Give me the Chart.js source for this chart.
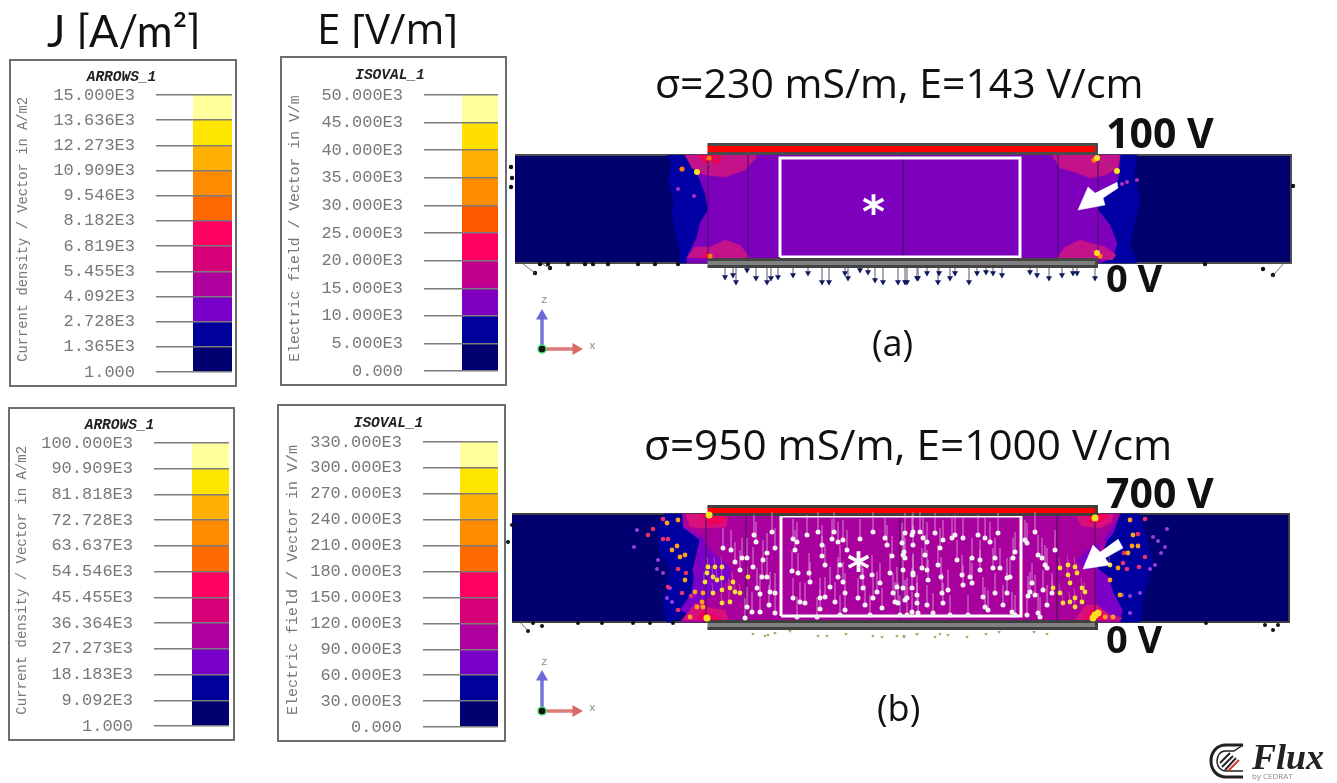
<!DOCTYPE html>
<html lang="en">
<head>
<meta charset="UTF-8">
<title>Flux field maps</title>
<script src="https://cdn.jsdelivr.net/npm/chart.js"></script>
<style>
  html, body { margin: 0; background: #fff; }
  #page { position: relative; width: 1337px; height: 783px; overflow: hidden; filter: blur(0.5px); }
  .frame { position: absolute; box-sizing: border-box; border: 2px solid #6e6e6e; background: #fff; }
  .frame canvas, .panel { display: block; }
  .panel { position: absolute; left: 500px; }
  .txt { position: absolute; white-space: nowrap; font-family: "Open Sans", sans-serif; line-height: 1; color: #111; }
  .clip { position: absolute; overflow: hidden; }
  .volt { font-weight: 700; font-size: 41px; color: #111; }
  .zero { font-weight: 700; font-size: 38px; color: #111; }
  .par { font-size: 36px; }
  .star { font-family: "DejaVu Sans", sans-serif; font-weight: 700; color: #fff; font-size: 44px; }
  .ax { font-family: "Liberation Mono", monospace; color: #888; font-size: 11px; }
</style>
</head>
<body>
<div id="page">
  <div class="clip" style="left:40px;top:8px;width:170px;height:41px">
    <span class="txt" style="left:7px;top:1px;font-size:43.5px;font-family:Lato,sans-serif">J [A/m²]</span>
  </div>
  <div class="clip" style="left:310px;top:4px;width:160px;height:44px">
    <span class="txt" style="left:7px;top:3px;font-size:42px">E [V/m]</span>
  </div>

  <canvas id="panelA" class="panel" width="800" height="270" style="top:110px"></canvas>
  <canvas id="panelB" class="panel" width="800" height="270" style="top:470px"></canvas>

  <span class="txt" style="left:655px;top:62px;font-size:41px">σ=230 mS/m, E=143 V/cm</span>
  <span class="txt volt" style="left:1106px;top:112px">100 V</span>
  <span class="txt zero" style="left:1106px;top:258px">0 V</span>
  <span class="txt par" style="left:872px;top:325px">(a)</span>
  <span class="txt star" style="left:862px;top:190px">*</span>
  <span class="txt ax" style="left:541px;top:295px">z</span>
  <span class="txt ax" style="left:589px;top:341px">x</span>

  <span class="txt" style="left:644px;top:423px;font-size:42.3px">σ=950 mS/m, E=1000 V/cm</span>
  <span class="txt volt" style="left:1106px;top:472px">700 V</span>
  <span class="txt zero" style="left:1106px;top:619px">0 V</span>
  <span class="txt par" style="left:877px;top:690px">(b)</span>
  <span class="txt star" style="left:847px;top:547px">*</span>
  <span class="txt ax" style="left:541px;top:657px">z</span>
  <span class="txt ax" style="left:589px;top:703px">x</span>

  <svg style="position:absolute;left:1208px;top:741px" width="40" height="40" viewBox="0 0 40 40">
    <path d="M35 4 H18 C8 4 3 12 3 20 C3 29 9 36 18 36 H35" fill="none" stroke="#222" stroke-width="3"/>
    <path d="M35 4 L26 10 H17 C12 10 9 15 9 20 C9 26 13 30 18 30 H35" fill="none" stroke="#222" stroke-width="1.5"/>
    <path d="M12 22 L22 12 M14 26 L25 15 M17 29 L28 17" stroke="#222" stroke-width="2"/>
    <path d="M20 30 L31 19" stroke="#d8321e" stroke-width="2"/>
  </svg>
  <span class="txt" style="left:1252px;top:739px;font:italic 700 36px 'Liberation Serif',serif;line-height:1;color:#222">Flux</span>
  <span class="txt" style="left:1252px;top:772px;font-size:8px;color:#888">by CEDRAT</span>
</div>

<script>
  // legend levels, bottom to top
  const jLevelsA = [1, 1365, 2728, 4092, 5455, 6819, 8182, 9546, 10909, 12273, 13636, 15000];
  const jLabelsA = ['1.000', '1.365E3', '2.728E3', '4.092E3', '5.455E3', '6.819E3', '8.182E3', '9.546E3', '10.909E3', '12.273E3', '13.636E3', '15.000E3'];
  const eLevelsA = [0, 5000, 10000, 15000, 20000, 25000, 30000, 35000, 40000, 45000, 50000];
  const eLabelsA = ['0.000', '5.000E3', '10.000E3', '15.000E3', '20.000E3', '25.000E3', '30.000E3', '35.000E3', '40.000E3', '45.000E3', '50.000E3'];
  const jLevelsB = [1, 9092, 18183, 27273, 36364, 45455, 54546, 63637, 72728, 81818, 90909, 100000];
  const jLabelsB = ['1.000', '9.092E3', '18.183E3', '27.273E3', '36.364E3', '45.455E3', '54.546E3', '63.637E3', '72.728E3', '81.818E3', '90.909E3', '100.000E3'];
  const eLevelsB = [0, 30000, 60000, 90000, 120000, 150000, 180000, 210000, 240000, 270000, 300000, 330000];
  const eLabelsB = ['0.000', '30.000E3', '60.000E3', '90.000E3', '120.000E3', '150.000E3', '180.000E3', '210.000E3', '240.000E3', '270.000E3', '300.000E3', '330.000E3'];

  const colors11 = ['#000070', '#00009a', '#7800c8', '#ae009c', '#d80078', '#ff0060', '#ff6a00', '#ff8c00', '#ffb000', '#ffe600', '#ffff9c'];
  const colors10 = ['#000070', '#00009a', '#8000c0', '#c0008c', '#ff0060', '#ff5800', '#ff8c00', '#ffb000', '#ffdf00', '#ffff9c'];

  // field map (a), x along the cell, z up
  const blockA = [[15, 117], [791, 117], [791, 225], [15, 225]];
  const blueLeftA = [[167, 225], [172, 215], [168, 200], [174, 180], [172, 165], [176, 145], [180, 130], [180, 117], [187, 117], [187, 123], [197, 143], [200, 157], [208, 170], [205, 187], [197, 207], [185, 225]];
  const blueRightA = [[620, 225], [637, 225], [634, 205], [640, 180], [634, 155], [630, 135], [637, 117], [600, 117], [613, 122], [617, 137], [610, 155], [598, 170], [600, 180], [618, 200]];
  const purpleA = [[185, 225], [620, 225], [618, 200], [600, 180], [598, 170], [610, 155], [617, 137], [613, 122], [600, 117], [187, 117], [187, 123], [197, 143], [200, 157], [208, 170], [205, 187], [197, 207]];
  const hotA = [
    [[185, 225], [192, 212], [205, 205], [225, 203], [245, 210], [256, 222], [256, 225]],
    [[187, 122], [195, 133], [210, 133], [225, 140], [240, 135], [250, 122]],
    [[552, 225], [560, 212], [575, 208], [590, 202], [605, 205], [618, 212], [620, 225]],
    [[557, 122], [565, 133], [580, 140], [590, 137], [605, 133], [616, 125], [612, 120]]
  ];
  const redA = [[[197, 225], [205, 217], [220, 217], [222, 225]], [[200, 122], [207, 128], [213, 122]]];
  const yellowA = [[597, 222], [617, 209], [597, 127], [197, 208]];
  const orangeA = [[209, 222], [210, 124], [182, 211], [594, 220], [600, 124]];
  const pinkA = [[178, 191], [194, 184], [622, 196], [637, 200], [627, 198]];
  const gridLinesA = [208, 248, 403, 558, 598];
  const windowA = [[280, 123], [520, 123], [520, 222], [280, 222]];
  const redBarA = [[207.5, 226.5], [596.5, 226.5], [596.5, 235.5], [207.5, 235.5]];
  const greyBarA = [[207.5, 113.5], [596.5, 113.5], [596.5, 120.5], [207.5, 120.5]];
  const whiteArrowA = [[617, 198], [618, 192], [603, 182], [605, 175], [578, 170], [588, 193], [595, 187]];
  const downArrowsA = [[225, 103], [233, 105], [236, 98], [247, 110], [256, 102], [267, 98], [271, 102], [278, 103], [293, 105], [308, 107], [322, 98], [329, 98], [345, 107], [348, 102], [360, 110], [368, 108], [375, 100], [383, 98], [398, 98], [405, 98], [417, 102], [407, 98], [418, 102], [427, 107], [439, 107], [438, 98], [450, 102], [455, 107], [469, 98], [477, 107], [486, 108], [493, 107], [502, 105], [530, 108], [537, 105], [549, 102], [562, 105], [573, 107], [577, 107], [595, 102]];
  const edgeMarksA = [[40, 116], [48, 116], [68, 116], [85, 116], [93, 116], [108, 116], [138, 116], [155, 116], [178, 116], [11, 213], [12, 202], [11, 193], [793, 194], [705, 116], [773, 105], [763, 111], [35, 107], [50, 112]];

  // field map (b)
  const blockB = [[12, 118], [789, 118], [789, 226], [12, 226]];
  const mainB = [[182, 226], [620, 226], [613, 207], [607, 200], [597, 172], [608, 163], [613, 147], [622, 130], [620, 118], [180, 118], [187, 127], [197, 147], [193, 170], [200, 200], [183, 213]];
  const blueLeftB = [[165, 226], [182, 226], [183, 213], [200, 200], [193, 170], [197, 147], [187, 127], [172, 118], [167, 118], [163, 137], [170, 170], [160, 187], [157, 213]];
  const blueRightB = [[620, 226], [640, 226], [645, 207], [653, 177], [643, 143], [640, 118], [620, 118], [622, 130], [613, 147], [608, 163], [597, 172], [607, 200], [613, 207]];
  const violetB = [
    [[183, 213], [203, 202], [210, 190], [230, 173], [230, 163], [220, 150], [207, 142], [200, 138], [187, 127], [180, 130], [192, 147], [195, 170], [200, 200]],
    [[618, 223], [613, 207], [607, 200], [587, 190], [577, 180], [583, 170], [597, 172], [608, 163], [613, 147], [622, 130], [620, 122], [607, 120], [597, 137], [595, 157], [600, 195]]
  ];
  const hotB = [
    [[186, 226], [190, 213], [205, 212], [226, 213], [228, 226]],
    [[183, 120], [195, 137], [210, 132], [225, 130], [228, 120]],
    [[575, 226], [582, 214], [600, 212], [612, 218], [613, 226]],
    [[575, 120], [585, 135], [597, 135], [610, 125], [622, 122], [620, 120]]
  ];
  const redB = [[[200, 226], [208, 216], [222, 216], [228, 226]], [[195, 120], [203, 129], [213, 125], [222, 120]], [[585, 226], [590, 217], [602, 218], [608, 226]], [[585, 120], [590, 130], [600, 131], [606, 120]]];
  const gridLinesB = [206, 246, 400, 557, 595];
  const windowB = [[281, 124], [521, 124], [521, 224], [281, 224]];
  const redBarB = [[207.5, 225.5], [596.5, 225.5], [596.5, 233.5], [207.5, 233.5]];
  const greyBarB = [[207.5, 111.5], [596.5, 111.5], [596.5, 118.5], [207.5, 118.5]];
  const whiteArrowB = [[618, 201], [623, 192], [605, 182], [610, 175], [583, 171], [593, 195], [600, 188]];
  const whiteDotsB = [[223, 192], [231, 190], [254, 205], [256, 198], [272, 208], [275, 192], [235, 178], [242, 182], [247, 182], [240, 170], [253, 173], [263, 180], [267, 187], [262, 163], [267, 163], [257, 152], [260, 146], [270, 148], [275, 147], [247, 133], [252, 128], [260, 128], [269, 135], [275, 127], [245, 122],
    [293, 201], [297, 198], [295, 190], [307, 205], [318, 208], [322, 195], [334, 208], [332, 201], [338, 198], [343, 200], [347, 190], [360, 201], [373, 208], [385, 202], [387, 195], [392, 184], [403, 185], [405, 207], [413, 208], [402, 197], [413, 195],
    [292, 169], [298, 167], [309, 167], [310, 158], [322, 184], [325, 175], [340, 175], [338, 163], [343, 158], [330, 153], [345, 147], [363, 152], [362, 163], [372, 165], [380, 157], [377, 148], [373, 142], [390, 167], [397, 153], [393, 147], [407, 142], [413, 167],
    [293, 142], [300, 138], [305, 137], [320, 142], [325, 143], [335, 138], [345, 130], [320, 131], [358, 142], [365, 135], [382, 132], [395, 138], [398, 137], [412, 128], [297, 123], [317, 123], [340, 125], [370, 125], [400, 125],
    [404, 188], [405, 182], [403, 170], [403, 152], [412, 205], [420, 208], [423, 202], [427, 198], [425, 185], [422, 172], [427, 170], [428, 160], [413, 165], [412, 152], [417, 145], [405, 140], [417, 137], [418, 127], [427, 135], [435, 207], [443, 200], [452, 202], [440, 192], [457, 180], [438, 175], [441, 163], [442, 147], [443, 137], [448, 150], [462, 165], [463, 155], [470, 163], [472, 182], [472, 157], [463, 202], [455, 205], [478, 205], [485, 202], [490, 198], [498, 207], [480, 180], [495, 182], [493, 172], [500, 172], [513, 182], [515, 188], [480, 170], [483, 143], [485, 133], [488, 130], [495, 147], [507, 162], [510, 163], [507, 147], [503, 135], [512, 128], [468, 125], [450, 125], [433, 127], [407, 125], [515, 125],
    [525, 200], [527, 197], [535, 208], [538, 185], [542, 182], [545, 175], [547, 172], [532, 157], [530, 148], [535, 145], [528, 144], [543, 150], [547, 135], [538, 127], [540, 123], [527, 125], [552, 147], [555, 190]];
  const yellowDotsB = [[208, 173], [215, 173], [222, 173], [207, 167], [213, 163], [205, 158], [217, 160], [222, 162], [233, 158], [230, 152], [235, 148], [222, 150], [240, 147], [230, 138], [222, 137], [213, 147], [248, 163], [560, 172], [568, 175], [575, 173], [577, 167], [568, 165], [570, 157], [582, 152], [585, 148], [553, 152], [560, 147], [570, 138], [575, 133], [563, 137], [582, 138], [575, 142], [610, 175]];
  const orangeDotsB = [[167, 217], [178, 220], [172, 190], [177, 194], [185, 185], [180, 183], [185, 160], [203, 147], [195, 148], [202, 138], [197, 133], [203, 133], [190, 123], [630, 220], [633, 205], [632, 194], [638, 194], [628, 187], [618, 172], [610, 160], [620, 145], [605, 123], [613, 123]];
  const redDotsB = [[163, 221], [153, 211], [148, 205], [163, 201], [168, 201], [178, 171], [186, 167], [191, 144], [182, 147], [168, 153], [178, 130], [645, 221], [638, 206], [624, 187], [645, 183], [623, 177], [627, 171], [639, 173]];
  const purpleDotsB = [[137, 210], [134, 193], [157, 171], [163, 167], [158, 180], [167, 142], [170, 152], [172, 138], [667, 211], [653, 203], [658, 199], [665, 193], [661, 187], [655, 175], [650, 171], [640, 147], [630, 144], [630, 127], [622, 145]];
  const hotCoreB = [[207, 122], [209, 225], [595, 222], [595, 125], [593, 122], [598, 127]];
  const belowMarksB = [[253, 106], [265, 104], [268, 105], [275, 107], [290, 109], [318, 104], [327, 104], [346, 106], [373, 104], [382, 103], [397, 104], [404, 104], [417, 106], [404, 103], [417, 106], [435, 103], [440, 106], [448, 105], [467, 103], [486, 106], [499, 108], [534, 108], [547, 106]];
  const edgeMarksB = [[28, 109], [42, 114], [33, 117], [78, 117], [102, 117], [133, 117], [150, 117], [173, 117], [8, 198], [12, 215], [706, 117], [773, 110], [765, 115], [778, 115]];

  // xz triad: origin, z tip, x tip
  const triadA = [[42, 31], [42, 68], [80, 31]];
  const triadB = [[42, 29], [42, 67], [80, 29]];

  const mono = 'Liberation Mono';
  // leading space in the axis text: the printed title sits a bit above the bar centre
  const legendBoxes = [
    { parent: [9, 59, 228, 328], bar: [193, 232, 95, 372], tickLen: 37, labelGap: 21, titleX: 23, axisSize: 13.8, title: 'ARROWS_1', axis: ' Current density / Vector in A/m2', levels: jLevelsA, labels: jLabelsA, colors: colors11 },
    { parent: [280, 56, 227, 330], bar: [462, 498, 95, 371], tickLen: 38, labelGap: 21, titleX: 295, axisSize: 14.8, title: 'ISOVAL_1', axis: ' Electric field / Vector in V/m', levels: eLevelsA, labels: eLabelsA, colors: colors10 },
    { parent: [8, 407, 227, 334], bar: [192, 229, 443, 726], tickLen: 38, labelGap: 21, titleX: 22, axisSize: 14, title: 'ARROWS_1', axis: ' Current density / Vector in A/m2', levels: jLevelsB, labels: jLabelsB, colors: colors11 },
    { parent: [277, 404, 229, 338], bar: [460, 498, 442, 727], tickLen: 37, labelGap: 21, titleX: 292, axisSize: 15, title: 'ISOVAL_1', axis: ' Electric field / Vector in V/m', levels: eLevelsB, labels: eLabelsB, colors: colors11 }
  ];

  function makeLegend(box) {
    const [fx, fy, fw, fh] = box.parent;
    const [barL, barR, barT, barB] = box.bar;
    const div = document.createElement('div');
    div.className = 'frame';
    div.style.cssText = `left:${fx}px;top:${fy}px;width:${fw}px;height:${fh}px`;
    const canvas = document.createElement('canvas');
    canvas.width = fw - 4;
    canvas.height = fh - 4;
    div.appendChild(canvas);
    document.getElementById('page').insertBefore(div, document.getElementById('panelA'));

    const innerL = fx + 2, innerT = fy + 2;
    const titleCentre = (barT - innerT) * 0.47;
    const titleSize = 14.5;
    const titleLine = titleSize * 1.2;

    new Chart(canvas, {
      type: 'bar',
      data: {
        labels: [''],
        datasets: box.colors.map((c, i) => ({
          data: [[box.levels[i], box.levels[i + 1]]],
          backgroundColor: c,
          barPercentage: 1,
          categoryPercentage: 1
        }))
      },
      options: {
        responsive: false,
        animation: false,
        events: [],
        layout: { padding: { right: fx + fw - 2 - barR, bottom: fy + fh - 2 - barB } },
        plugins: {
          legend: { display: false },
          tooltip: { enabled: false },
          title: {
            display: true,
            text: box.title,
            color: '#222',
            font: { family: mono, size: titleSize, weight: 'bold', style: 'italic' },
            padding: { top: titleCentre - titleLine / 2, bottom: barT - innerT - titleCentre - titleLine / 2 }
          }
        },
        scales: {
          x: { stacked: true, display: false },
          y: {
            min: box.levels[0],
            max: box.levels[box.levels.length - 1],
            afterBuildTicks: s => { s.ticks = box.levels.map(v => ({ value: v })); },
            afterFit: s => { s.width = barL - innerL; s.paddingTop = 0; s.paddingBottom = 0; },
            border: { display: false },
            grid: { color: '#7c7c7c', lineWidth: 1.4, tickLength: box.tickLen, z: 1 },
            ticks: {
              autoSkip: false,
              padding: box.labelGap,
              color: '#777',
              font: { family: mono, size: 17 },
              callback: (v, i) => box.labels[i]
            },
            title: {
              display: true,
              text: box.axis,
              color: '#777',
              font: { family: mono, size: box.axisSize },
              padding: { top: box.titleX - innerL - 8.3, bottom: 0 }
            }
          }
        }
      }
    });
  }
  legendBoxes.forEach(makeLegend);

  const toXY = pts => pts.map(p => ({ x: p[0], y: p[1] }));
  const poly = (pts, fill, border, width) => ({
    data: toXY(pts), fill: 'shape', backgroundColor: fill,
    borderColor: border || fill, borderWidth: width === undefined ? 0.5 : width,
    pointRadius: 0, tension: 0
  });
  const closed = (pts, color, width) => ({
    data: toXY(pts.concat([pts[0]])), fill: false, borderColor: color, borderWidth: width,
    pointRadius: 0, tension: 0
  });
  const dots = (pts, color, radius, style, rotation) => ({
    data: toXY(pts), showLine: false, pointRadius: radius, pointBackgroundColor: color,
    pointBorderColor: color, pointBorderWidth: 0, pointStyle: style || 'circle', pointRotation: rotation || 0
  });
  // separate strokes, with a gap between them
  const strokes = (pairs, color, width) => ({
    data: pairs.flatMap(s => [{ x: s[0], y: s[1] }, { x: s[2], y: s[3] }, { x: s[0], y: NaN }]),
    fill: false, borderColor: color, borderWidth: width, pointRadius: 0, spanGaps: false, tension: 0
  });

  function triad(t) {
    const [o, z, x] = t;
    return [
      strokes([[o[0], o[1], z[0], z[1] - 6]], '#7474d8', 3.5),
      dots([[z[0], z[1] - 4]], '#6a6ad8', 7, 'triangle'),
      strokes([[o[0], o[1], x[0] - 6, x[1]]], '#de7a78', 3.5),
      dots([[x[0] - 4, x[1]]], '#d86a68', 7, 'triangle', 90),
      { data: toXY([o]), showLine: false, pointRadius: 4, pointBackgroundColor: '#111', pointBorderColor: '#3fe06a', pointBorderWidth: 1.5 }
    ];
  }

  function makePanel(id, layers) {
    layers.forEach((d, i) => { d.order = -i; });
    new Chart(document.getElementById(id), {
      type: 'line',
      data: { datasets: layers },
      options: {
        responsive: false,
        animation: false,
        events: [],
        layout: { padding: 0, autoPadding: false },
        plugins: { legend: { display: false }, tooltip: { enabled: false } },
        scales: {
          x: { type: 'linear', min: 0, max: 800, display: false },
          y: { type: 'linear', min: 0, max: 270, display: false }
        }
      }
    });
  }

  const verticals = (xs, lo, hi) => xs.map(x => [x, lo, x, hi]);

  makePanel('panelA', [
    poly(blockA, '#00006c', '#4d4d4d', 2),
    poly(blueLeftA, '#0000a4'),
    poly(blueRightA, '#0000a4'),
    poly(purpleA, '#7c00bc'),
    ...hotA.map(p => poly(p, '#c4128a')),
    ...redA.map(p => poly(p, '#ee0058')),
    strokes(verticals(gridLinesA, 117, 225), '#3a1060', 1),
    closed(windowA, '#ffffff', 3),
    poly(redBarA, '#ff0000', '#4a4a4a', 3),
    poly(greyBarA, '#808080', '#444444', 3),
    strokes(downArrowsA.map(p => [p[0], 112, p[0], p[1]]), '#8a8a9a', 0.7),
    dots(downArrowsA, '#101a60', 3.5, 'triangle', 180),
    dots(edgeMarksA, '#111', 2.2),
    strokes([[23, 116, 35, 107], [42, 116, 50, 112], [783, 116, 772, 103], [197, 208, 222, 225], [617, 209, 597, 222]], '#7a4a60', 0.8),
    dots(pinkA, '#b030c0', 2),
    dots(orangeA, '#ff7a10', 2.6),
    dots(yellowA, '#ffe020', 3),
    poly(whiteArrowA, '#ffffff'),
    ...triad(triadA)
  ]);

  makePanel('panelB', [
    poly(blockB, '#000070', '#3d3d3d', 2),
    poly(blueLeftB, '#0000a0'),
    poly(blueRightB, '#0000a0'),
    poly(mainB, '#a8009c'),
    ...violetB.map(p => poly(p, '#7c00c8')),
    ...hotB.map(p => poly(p, '#d8107e')),
    ...redB.map(p => poly(p, '#f00058')),
    strokes(verticals(gridLinesB, 118, 226), '#3a1050', 1),
    closed(windowB, '#ffffff', 3),
    poly(redBarB, '#ff0000', '#3f3f3f', 3),
    poly(greyBarB, '#808080', '#3f3f3f', 3),
    strokes(whiteDotsB.map(p => [p[0], p[1], p[0], p[1] + 20]), 'rgba(235,205,235,0.65)', 1),
    strokes(yellowDotsB.map(p => [p[0], p[1], p[0] - 1, p[1] + 10]), 'rgba(235,205,150,0.5)', 0.7),
    dots(purpleDotsB, '#9a40d8', 2),
    dots(redDotsB, '#f03068', 2.3),
    dots(orangeDotsB, '#ffa020', 2.4),
    dots(yellowDotsB, '#f4e030', 2.4),
    dots(whiteDotsB, '#f2f2f2', 2.5),
    dots(hotCoreB, '#ffe020', 3.5),
    dots(belowMarksB, '#a8a860', 2, 'triangle', 180),
    dots(edgeMarksB, '#111', 2),
    strokes([[20, 118, 28, 109]], '#555', 0.8),
    poly(whiteArrowB, '#ffffff'),
    ...triad(triadB)
  ]);
</script>
</body>
</html>
